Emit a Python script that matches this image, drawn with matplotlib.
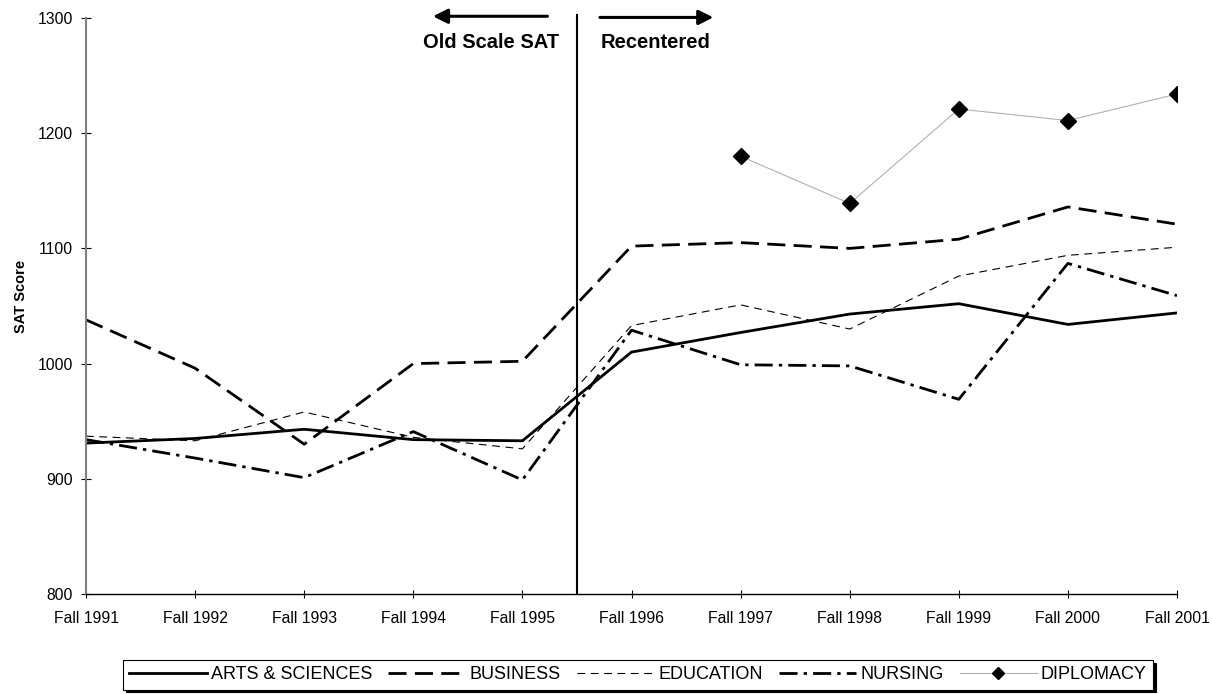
import matplotlib
matplotlib.use("Agg")
import matplotlib.pyplot as plt
from matplotlib.transforms import blended_transform_factory

plt.rcParams['font.family'] = ['Liberation Sans', 'DejaVu Sans']

categories = ["Fall 1991", "Fall 1992", "Fall 1993", "Fall 1994", "Fall 1995",
              "Fall 1996", "Fall 1997", "Fall 1998", "Fall 1999", "Fall 2000", "Fall 2001"]
arts = [931, 935, 943, 934, 933, 1010, 1027, 1043, 1052, 1034, 1044]
business = [1038, 996, 930, 1000, 1002, 1102, 1105, 1100, 1108, 1136, 1121]
education = [937, 933, 958, 936, 926, 1033, 1051, 1030, 1076, 1094, 1101]
nursing = [934, 918, 901, 941, 899, 1029, 999, 998, 969, 1087, 1059]
diplomacy_years = ["Fall 1997", "Fall 1998", "Fall 1999", "Fall 2000", "Fall 2001"]
diplomacy = [1180, 1139, 1221, 1211, 1234]
yticks = [800, 900, 1000, 1100, 1200, 1300]

W, H = 1212, 694
fig = plt.figure(figsize=(W / 100, H / 100), dpi=100)
ax = fig.add_axes([86 / W, 1 - 594 / H, (1177 - 86) / W, (594 - 18) / H])

x = list(range(len(categories)))
dx = [categories.index(c) for c in diplomacy_years]

ax.plot(x, arts, color='black', lw=2.0, label='ARTS & SCIENCES')
ax.plot(x, business, color='black', lw=2.0, dashes=(6.5, 3.0), label='BUSINESS')
ax.plot(x, education, color='black', lw=0.8, dashes=(7, 5), label='EDUCATION')
ax.plot(x, nursing, color='black', lw=2.0, dashes=(6.5, 2.2, 1.2, 2.2), label='NURSING')
ax.plot(dx, diplomacy, color='#b0b0b0', lw=0.8, marker='D', markersize=8.5,
        markerfacecolor='black', markeredgecolor='black', label='DIPLOMACY')

ax.set_xlim(0, len(categories) - 1)
ax.set_ylim(800, 1300)
ax.set_xticks(x)
ax.set_xticklabels(categories, fontsize=11.3)
ax.set_yticks(yticks)
ax.set_yticklabels([str(v) for v in yticks], fontsize=11.3)
ax.tick_params(axis='x', direction='inout', length=6, width=0.8, pad=9)
ax.tick_params(axis='y', direction='inout', length=6.5, width=0.8, pad=6)
for s in ['top', 'right']:
    ax.spines[s].set_visible(False)
ax.spines['left'].set_color('#808080')
ax.spines['left'].set_linewidth(1.5)
ax.spines['bottom'].set_color('black')
ax.spines['bottom'].set_linewidth(1.0)
ax.set_ylabel('SAT Score', fontsize=10.5, fontweight='bold')
ax.yaxis.set_label_coords((28 - 86) / (1177 - 86), (594 - 296) / 576)

tr = blended_transform_factory(ax.transData, ax.transAxes)
ax.plot([4.5, 4.5], [0, 1.005], transform=tr, color='black', lw=1.5, clip_on=False)

ax.annotate('', xy=(3.18, 1.003), xytext=(4.23, 1.003), xycoords=tr, textcoords=tr,
            arrowprops=dict(arrowstyle='-|>', lw=2.2, color='black', mutation_scale=22,
                            shrinkA=0, shrinkB=0))
ax.annotate('', xy=(5.75, 1.001), xytext=(4.71, 1.001), xycoords=tr, textcoords=tr,
            arrowprops=dict(arrowstyle='-|>', lw=2.2, color='black', mutation_scale=22,
                            shrinkA=0, shrinkB=0))
ax.text(3.71, 0.958, 'Old Scale SAT', transform=tr, ha='center', va='center',
        fontsize=14.5, fontweight='bold')
ax.text(5.22, 0.958, 'Recentered', transform=tr, ha='center', va='center',
        fontsize=14.5, fontweight='bold')

leg = fig.legend(loc='upper left', bbox_to_anchor=(123 / W, 1 - 660 / H), ncol=5,
                 frameon=True, fancybox=False, shadow={'color': 'black', 'alpha': 1},
                 edgecolor='black', fontsize=13, handlelength=4.3, handletextpad=0.2,
                 columnspacing=0.9, borderpad=0.35, borderaxespad=0, markerscale=0.75)
leg.get_frame().set_linewidth(0.8)

fig.savefig('out.png', dpi=100)
